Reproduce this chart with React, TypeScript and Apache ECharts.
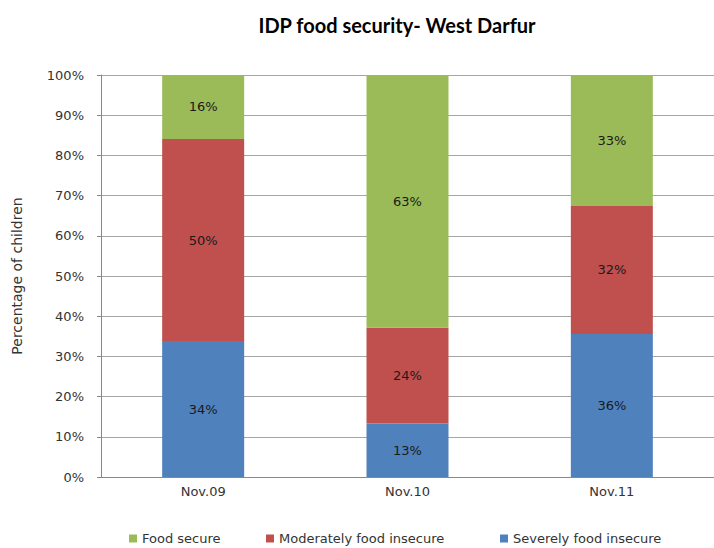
import React, { useEffect, useRef } from "react";
import * as echarts from "echarts";

const categories = ["Nov.09", "Nov.10", "Nov.11"];
const severelyInsecure = [33.8, 13.3, 35.6];
const moderatelyInsecure = [50.3, 23.8, 31.8];
const foodSecure = [15.9, 62.9, 32.6];
const yTicks = ["0%", "10%", "20%", "30%", "40%", "50%", "60%", "70%", "80%", "90%", "100%"];

const FONT = "DejaVu Sans";

export default function App() {
  const ref = useRef<HTMLDivElement>(null);
  useEffect(() => {
    const chart = echarts.init(ref.current!, undefined, { renderer: "svg" });
    const label = {
      show: true,
      position: "inside",
      color: "#1a1a1a",
      fontFamily: FONT,
      fontSize: 13,
      formatter: (p: any) => Math.round(p.value) + "%",
    };
    const mk = (name: string, data: number[], color: string) => ({
      name,
      type: "bar",
      stack: "total",
      data,
      barWidth: 82,
      itemStyle: { color },
      label,
    });
    const legendBase = {
      top: 530,
      itemWidth: 8,
      itemHeight: 8,
      icon: "rect",
      padding: 2,
      textStyle: { fontFamily: FONT, fontSize: 13, color: "#333" },
      itemGap: 4,
    };
    chart.setOption({
      animation: false,
      title: {
        text: "IDP food security- West Darfur",
        left: 392,
        textAlign: "center",
        top: 10,
        textStyle: { fontFamily: "Lato", fontWeight: "bold", fontSize: 20, color: "#000" },
      },
      grid: { left: 101, right: -6, top: 75, bottom: 548 - 477, containLabel: false },
      legend: [
        { ...legendBase, left: 127, data: ["Food secure"] },
        { ...legendBase, left: 264, data: ["Moderately food insecure"] },
        { ...legendBase, left: 498, data: ["Severely food insecure"] },
      ],
      xAxis: {
        type: "category",
        data: categories,
        axisLine: { show: true, lineStyle: { color: "#888" } },
        axisTick: { show: false },
        axisLabel: { fontFamily: FONT, fontSize: 13, color: "#333", margin: 8 },
      },
      yAxis: {
        type: "value",
        min: 0,
        max: 100,
        interval: 10,
        name: "Percentage of children",
        nameLocation: "middle",
        nameGap: 77,
        nameTextStyle: { fontFamily: FONT, fontSize: 14, color: "#333" },
        axisLine: { show: true, lineStyle: { color: "#888" } },
        axisTick: { show: true, length: 4, lineStyle: { color: "#888" } },
        splitLine: { show: true, lineStyle: { color: "#a6a6a6" } },
        axisLabel: {
          fontFamily: FONT,
          fontSize: 13,
          color: "#333",
          margin: 17,
          formatter: (v: number) => yTicks[Math.round(v / 10)],
        },
      },
      series: [
        mk("Severely food insecure", severelyInsecure, "#4F81BD"),
        mk("Moderately food insecure", moderatelyInsecure, "#C0504D"),
        mk("Food secure", foodSecure, "#9BBB59"),
      ],
    });
    return () => chart.dispose();
  }, []);
  return <div ref={ref} style={{ width: 714, height: 548, position: "absolute", left: 0, top: 0 }} />;
}
